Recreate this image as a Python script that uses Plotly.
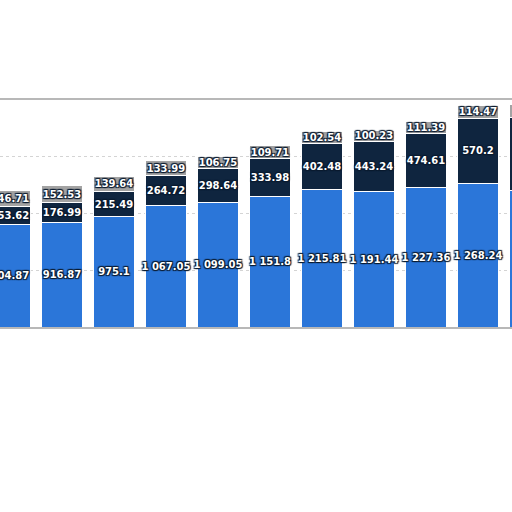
"""Stacked bars, three segments per column, white outlined value labels."""
import plotly.graph_objects as go

CATEGORIES = list(range(11))
BLUE_VALUES = [904.87, 916.87, 975.1, 1067.05, 1099.05, 1151.8, 1215.81,
               1191.44, 1227.36, 1268.24, 1207.0]
NAVY_VALUES = [153.62, 176.99, 215.49, 264.72, 298.64, 333.98, 402.48,
               443.24, 474.61, 570.2, 640.0]
GRAY_VALUES = [146.71, 152.53, 139.64, 133.99, 106.75, 109.71, 102.54,
               100.23, 111.39, 114.47, 110.0]

BLUE = "#2b76d9"
NAVY = "#0f253f"
GRAY = "#a3a3a3"
SHADOW = ("1px 1px 1px #0a1a2e, -1px -1px 1px #0a1a2e, "
          "1px -1px 1px #0a1a2e, -1px 1px 1px #0a1a2e")

fig = go.Figure()
for vals, col in ((BLUE_VALUES, BLUE), (NAVY_VALUES, NAVY), (GRAY_VALUES, GRAY)):
    fig.add_trace(go.Bar(
        x=CATEGORIES, y=vals,
        marker=dict(color=col, line=dict(color="white", width=1)),
        texttemplate="%{y:,}", textposition="inside", insidetextanchor="middle",
        textangle=0, constraintext="none",
        textfont=dict(family="DejaVu Sans, Verdana, sans-serif", size=10,
                      color="white", weight="bold", shadow=SHADOW),
        hoverinfo="skip", showlegend=False,
    ))

fig.update_layout(
    barmode="stack", bargap=0.23,
    separators=". ",
    uniformtext=dict(minsize=10, mode="show"),
    paper_bgcolor="white", plot_bgcolor="white",
    width=512, height=512,
    margin=dict(l=0, r=0, t=100, b=185),
    xaxis=dict(range=[-0.192, 9.654], showticklabels=False, showgrid=False,
               zeroline=False, showline=True, linecolor="#b8b8b8", linewidth=1.5,
               mirror=True, ticks=""),
    yaxis=dict(range=[0, 2000], dtick=500, showticklabels=False,
               gridcolor="#d4d4d4", griddash="dot", gridwidth=1,
               zeroline=False, showline=False, ticks=""),
)

# page has a default 8px body margin; drop it so the figure sits at the corner
fig.write_html("out.html", config={"displayModeBar": False},
               post_script="document.body.style.margin='0';")
